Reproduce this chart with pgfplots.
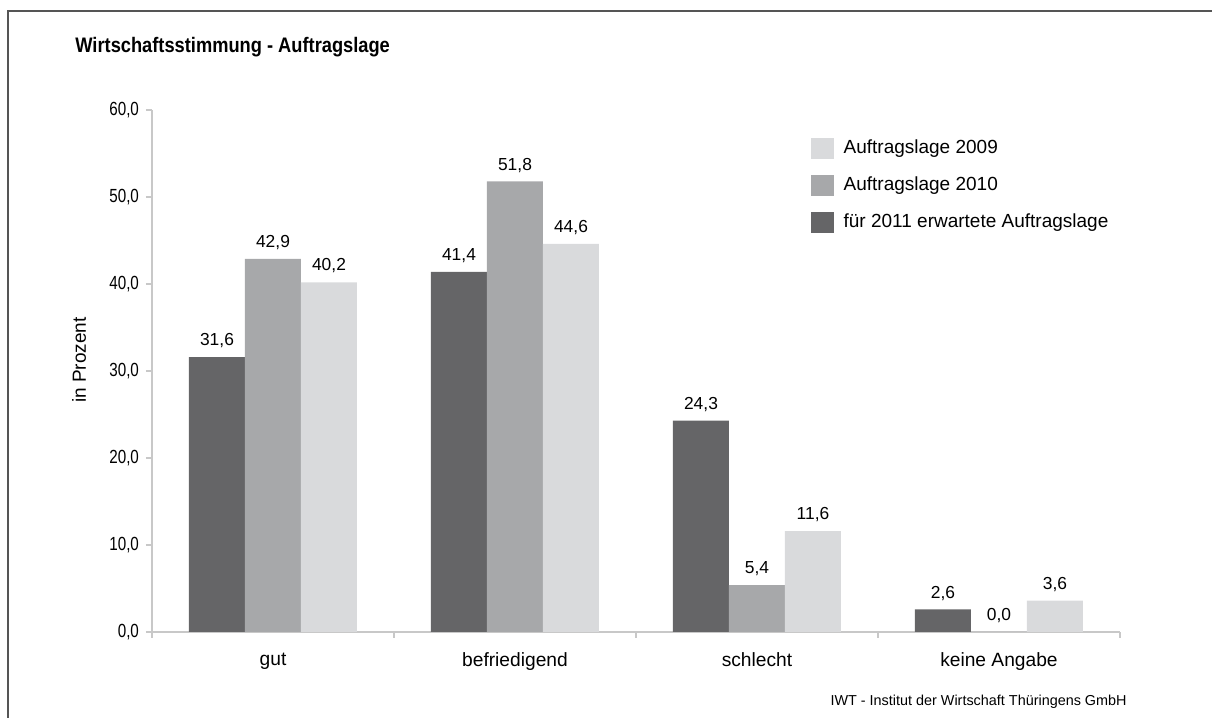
\documentclass[border=0pt]{standalone}
\usepackage{fontspec}
\setmainfont{Liberation Sans}
\newfontfamily\titlefont{Liberation Sans Bold}[FakeStretch=0.87]
\newfontfamily\tickfont{Liberation Sans}[FakeStretch=0.8]
\usepackage{pgfplots}
\pgfplotsset{compat=1.18}
\definecolor{dark}{HTML}{656567}
\definecolor{mid}{HTML}{A7A8AA}
\definecolor{light}{HTML}{D9DADC}
\definecolor{axisgray}{HTML}{C8C8C8}
\definecolor{frame}{HTML}{555555}

\begin{document}
\begin{tikzpicture}
% page: 1212x718 px at 0.5pt per px, origin at the axis corner (152,632)
\path[use as bounding box] (-76pt,-43pt) rectangle (530pt,316pt);
\draw[frame,line width=1pt] (-72pt,-60pt) -- (-72pt,310.5pt) -- (540pt,310.5pt);
\node[anchor=west,inner sep=0pt,font=\titlefont\fontsize{10.5}{12}\selectfont] at (-38.5pt,292.5pt) {Wirtschaftsstimmung - Auftragslage};
\node[rotate=90,inner sep=0pt,font=\fontsize{9.5}{11}\selectfont] at (-36.5pt,136pt) {in Prozent};
\node[anchor=east,inner sep=0pt,font=\fontsize{7.2}{9}\selectfont] at (487.5pt,-35pt) {IWT - Institut der Wirtschaft Thüringens GmbH};

\begin{axis}[
	at={(0pt,0pt)}, anchor=south west,
	scale only axis,
	width=484pt, height=261pt,
	xmin=-0.5, xmax=3.5,
	ymin=0, ymax=60,
	ytick={0,10,...,60},
	xtick={0,1,2,3},
	xticklabels={gut,befriedigend,schlecht,keine Angabe},
	minor xtick={-0.5,0.5,1.5,2.5,3.5},
	major x tick style={draw=none},
	minor x tick style={axisgray,line width=0.6pt},
	y tick style={axisgray,line width=0.6pt},
	tick align=outside,
	major tick length=3pt, minor tick length=3pt,
	axis x line*=bottom, axis y line*=left,
	axis line style={axisgray,line width=0.8pt,-},
	y tick label style={font=\tickfont\fontsize{9.5}{11}\selectfont,
		/pgf/number format/fixed,/pgf/number format/fixed zerofill,
		/pgf/number format/precision=1,/pgf/number format/use comma,
		/pgf/number format/assume math mode=true},
	xticklabel style={font=\fontsize{9.6}{11}\selectfont,yshift=-4pt},
	ybar, bar width=28pt,
	nodes near coords,
	nodes near coords style={font=\fontsize{8.7}{10}\selectfont,text=black,yshift=1pt,
		/pgf/number format/fixed,/pgf/number format/fixed zerofill,
		/pgf/number format/precision=1,/pgf/number format/use comma,
		/pgf/number format/assume math mode=true},
	reverse legend,
	legend style={draw=none,fill=none,inner sep=0pt,at={(0.680,0.948)},anchor=north west,
		font=\fontsize{9.5}{11}\selectfont,row sep=8pt,
		nodes={inner sep=0pt,anchor=west}},
	legend cell align=left,
	legend image code/.code={\fill[#1,draw=none] (0pt,-5.25pt) rectangle (11.5pt,5.25pt);
		\path (16.5pt,0pt);},
	clip=false,
]
\addplot[fill=dark,draw=none,bar shift=-28pt] coordinates {(0,31.6) (1,41.4) (2,24.3) (3,2.6)};
\addplot[fill=mid,draw=none,bar shift=0pt] coordinates {(0,42.9) (1,51.8) (2,5.4) (3,0.0)};
\addplot[fill=light,draw=none,bar shift=28pt] coordinates {(0,40.2) (1,44.6) (2,11.6) (3,3.6)};
\legend{für 2011 erwartete Auftragslage,Auftragslage 2010,Auftragslage 2009}
\end{axis}
\end{tikzpicture}
\end{document}
